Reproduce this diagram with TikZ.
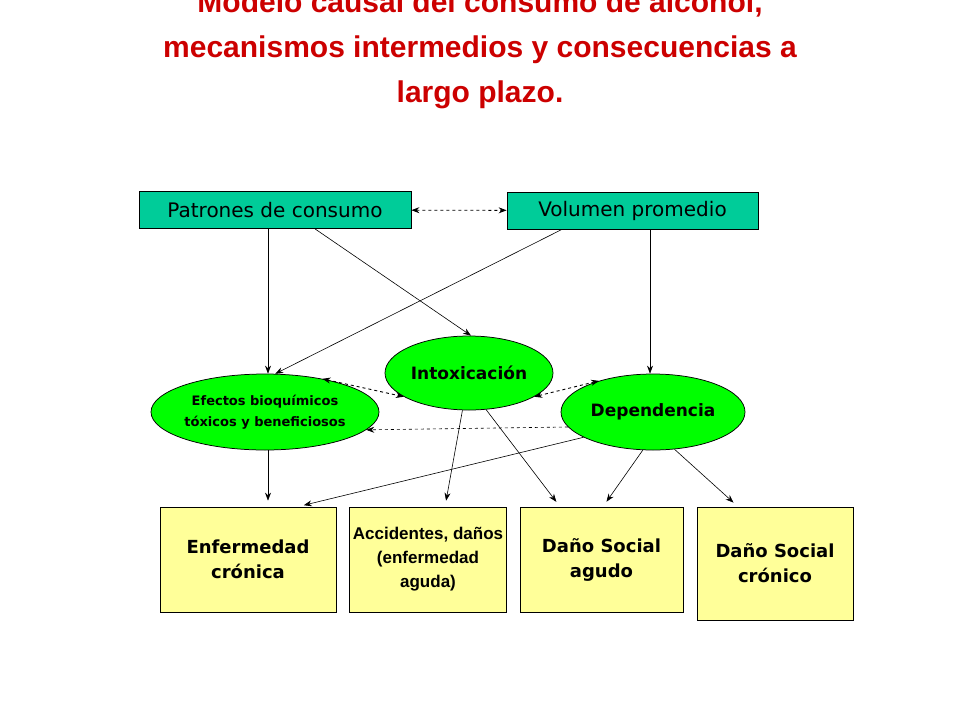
\documentclass[tikz,border=0pt]{standalone}
\usepackage{fontspec}
\setmainfont{DejaVu Sans}
\newfontfamily\titlefont{Liberation Sans}
\usetikzlibrary{shapes.geometric,arrows.meta}
\definecolor{boxteal}{RGB}{0,204,153}
\definecolor{lightyellow}{RGB}{255,255,153}
\definecolor{brightgreen}{RGB}{0,255,0}
\definecolor{titlered}{RGB}{204,0,0}

\tikzset{every picture/.style={line width=0.75pt}}
\tikzset{
  topbox/.style={draw, fill=boxteal, minimum height=37, inner sep=2, font=\fontsize{20}{22}\selectfont},
  bubble/.style={draw, ellipse, fill=brightgreen, inner sep=0, font=\bfseries\fontsize{17}{18}\selectfont, align=center},
  resultbox/.style={draw, fill=lightyellow, align=center, font=\bfseries\fontsize{18}{25}\selectfont},
  link/.style={-{Stealth[length=8pt,width=6pt]}, line width=0.6pt},
  duallink/.style={{Stealth[length=8pt,width=6pt]}-{Stealth[length=8pt,width=6pt]}, dashed, line width=0.9pt},
}

\begin{document}
\begin{tikzpicture}[x=1pt,y=1pt,yscale=-1,xscale=1]
	\useasboundingbox (0,0) rectangle (960,720);
	
	% Title
	\node (title) at (480,50) [align=center, text=titlered, font=\titlefont\bfseries\fontsize{30}{45}\selectfont] {Modelo causal del consumo de alcohol,\\ mecanismos intermedios y consecuencias a\\ largo plazo.};
	
	% Exposures
	\node (pat) at (275,210) [topbox, minimum width=272] {Patrones de consumo};
	\node (vol) at (632.5,210.5) [topbox, minimum width=251] {Volumen promedio};
	
	% Intermediate mechanisms
	\node (intox) at (469,373) [bubble, minimum width=168, minimum height=74] {Intoxicación};
	\node (eff) at (265,412) [bubble, minimum width=224, minimum height=76, font=\bfseries\fontsize{13}{21}\selectfont] {Efectos bioquímicos\\ tóxicos y beneficiosos};
	\node (dep) at (653,412) [bubble, minimum width=184, minimum height=76] {Dependencia};
	
	% Consequences
	\node (enf) at (248,559.5) [resultbox, minimum width=176, minimum height=105] {Enfermedad\\ crónica};
	\node (acc) at (428,559.5) [resultbox, minimum width=156, minimum height=105, font=\titlefont\bfseries\fontsize{17}{24}\selectfont] {Accidentes, daños\\ (enfermedad\\ aguda)};
	\node (agudo) at (601.5,559.5) [resultbox, minimum width=163, minimum height=105] {Daño Social\\ agudo};
	\node (cron) at (775,563.5) [resultbox, minimum width=156, minimum height=113] {Daño Social\\ crónico};
	
	% Connectors
	\draw [duallink] (pat) -- (vol);
	\draw [link] ([xshift=-7]pat.south) -- ([xshift=3]eff.north);
	\draw [link] ([xshift=40]pat.south) -- ([xshift=2]intox.north);
	\draw [link] ([xshift=-70.5]vol.south) -- (eff.75);
	\draw [link] ([xshift=17.5]vol.south) -- ([xshift=-3]dep.north);
	\draw [duallink] (eff.30) -- (intox.200);
	\draw [duallink] (intox.340) -- (dep.150);
	\draw [link, dashed] (dep.190) -- (eff.350);
	\draw [link, shorten >=6] ([xshift=3]eff.south) -- ([xshift=20]enf.north);
	\draw [link, shorten >=6] (dep.200) -- ([xshift=50]enf.north);
	\draw [link, shorten >=6] (intox.260) -- ([xshift=17]acc.north);
	\draw [link, shorten >=6] (intox.295) -- ([xshift=-41.5]agudo.north);
	\draw [link, shorten >=6] (dep.255) -- ([xshift=1.5]agudo.north);
	\draw [link, shorten >=6] (dep.300) -- ([xshift=-37]cron.north);
	
\end{tikzpicture}
\end{document}
